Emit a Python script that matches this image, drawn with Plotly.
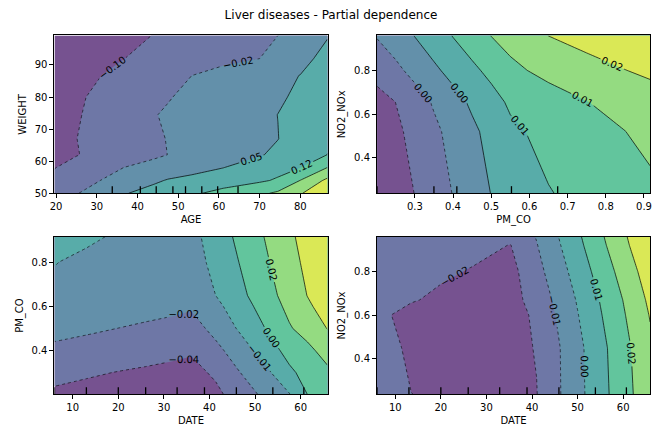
import plotly.graph_objects as go

TITLE = "Liver diseases - Partial dependence"

# ---------------- Panel 1: AGE (x) vs WEIGHT (y) ----------------
age_grid = [19.6, 25, 31, 36.7, 44, 47.5, 53.3, 61, 70, 74.5, 80, 86.7]
weight_grid = [50, 54, 58, 62, 67, 74.5, 80, 86.7, 92, 99.2]
pd_age_weight = [
    [-0.0625, -0.0288, 0.0103, 0.0448, 0.0763, 0.0898, 0.113, 0.146, 0.185, 0.2105, 0.2668, 0.3425],
    [-0.0813, -0.0543, -0.0243, 0.0028, 0.038, 0.0545, 0.0688, 0.0898, 0.1138, 0.1325, 0.2, 0.29],
    [-0.1015, -0.0768, -0.0513, -0.0243, -0.0025, 0.008, 0.0253, 0.0485, 0.083, 0.101, 0.1228, 0.2],
    [-0.1188, -0.1023, -0.0813, -0.0618, -0.0363, -0.0243, -0.0063, 0.017, 0.0448, 0.0635, 0.0913, 0.125],
    [-0.13, -0.1, -0.0813, -0.0625, -0.04, -0.0213, -0.0025, 0.0163, 0.035, 0.0485, 0.08, 0.1175],
    [-0.1375, -0.1053, -0.079, -0.0565, -0.028, -0.0175, -0.0025, 0.0163, 0.0365, 0.0502, 0.0725, 0.1025],
    [-0.145, -0.109, -0.085, -0.0663, -0.0408, -0.0288, -0.01, 0.0088, 0.0275, 0.041, 0.0613, 0.0913],
    [-0.1525, -0.1263, -0.1, -0.079, -0.055, -0.043, -0.025, -0.0025, 0.02, 0.035, 0.0508, 0.08],
    [-0.16, -0.1375, -0.1188, -0.1, -0.0813, -0.0723, -0.0588, -0.0415, -0.025, -0.0025, 0.0313, 0.0688],
    [-0.1675, -0.1488, -0.1338, -0.1188, -0.0978, -0.0888, -0.0738, -0.055, -0.0363, -0.025, 0.008, 0.0463],
]
levels_age_weight = dict(start=-0.0995, size=0.0746, n_neg=2)
deciles_age = [33.8, 40.7, 44.6, 48.7, 51.8, 55.8, 59.7, 64.7]

# ---------------- Panel 2: PM_CO (x) vs NO2_NOx (y) ----------------
pmco_grid_a = [0.201, 0.25, 0.30, 0.35, 0.40, 0.45, 0.50, 0.55, 0.65, 0.75, 0.85, 0.916]
no2_grid_a = [0.237, 0.52, 0.655, 0.80, 0.960]
pd_pmco_no2 = [
    [-0.01185, -0.0094, -0.0069, -0.00435, -0.00185, 0.00065, 0.0031, 0.00465, 0.00775, 0.00945, 0.011, 0.012],
    [-0.0105, -0.008, -0.0055, -0.003, -0.0005, 0.0021, 0.0044, 0.007, 0.0095, 0.0111, 0.01295, 0.01425],
    [-0.0095, -0.00695, -0.00425, -0.0015, 0.00125, 0.00375, 0.00625, 0.00875, 0.011, 0.0129, 0.0145, 0.0155],
    [-0.0045, -0.0031, -0.0005, 0.00215, 0.0045, 0.007, 0.00925, 0.012, 0.01425, 0.016, 0.0179, 0.019],
    [-0.00175, 0.0005, 0.00315, 0.0055, 0.0082, 0.0105, 0.0131, 0.0145, 0.01805, 0.02, 0.0215, 0.0225],
]
levels_pmco_no2 = dict(start=-0.007, size=0.005, n_neg=2)
deciles_pmco = [0.201, 0.35, 0.41, 0.553, 0.674]

# ---------------- Panel 3: DATE (x) vs PM_CO (y) ----------------
date_grid_a = [6.0, 13, 20, 26, 33, 36, 41.4, 46, 52, 57.5, 61.5, 65.9]
pmco_grid_b = [0.201, 0.3, 0.4, 0.5, 0.6, 0.65, 0.8, 0.916]
pd_date_pmco = [
    [-0.0385, -0.0406, -0.0426, -0.0439, -0.0446, -0.0446, -0.0392, -0.0318, -0.0203, -0.0102, 0.0041, 0.0114],
    [-0.0331, -0.0349, -0.0369, -0.0385, -0.0399, -0.0403, -0.0345, -0.0244, -0.0136, 0.0013, 0.0087, 0.0148],
    [-0.0257, -0.0277, -0.0298, -0.0311, -0.0338, -0.0352, -0.0264, -0.0176, -0.0041, 0.0087, 0.0141, 0.0229],
    [-0.0190, -0.0210, -0.0231, -0.0250, -0.0271, -0.0284, -0.0190, -0.0092, 0.0036, 0.0162, 0.0229, 0.0314],
    [-0.0129, -0.0149, -0.0169, -0.0183, -0.0203, -0.0217, -0.0129, -0.0034, 0.0087, 0.0209, 0.0290, 0.0364],
    [-0.0115, -0.0133, -0.0149, -0.0163, -0.0183, -0.0190, -0.0094, -0.0007, 0.0114, 0.0229, 0.0313, 0.0378],
    [-0.0092, -0.0115, -0.0129, -0.0136, -0.0136, -0.0115, -0.0082, 0.0031, 0.0151, 0.0261, 0.0342, 0.0432],
    [-0.0055, -0.0079, -0.0106, -0.0122, -0.0133, -0.0136, -0.0034, 0.0059, 0.0176, 0.0284, 0.0363, 0.0445],
]
levels_date_pmco = dict(start=-0.0365, size=0.0135, n_neg=3)

# ---------------- Panel 4: DATE (x) vs NO2_NOx (y) ----------------
date_grid_b = [6.0, 9.3, 13.5, 20, 27, 35.3, 41, 45, 50, 55, 60, 65.9]
no2_grid_b = [0.237, 0.45, 0.6, 0.67, 0.8, 0.92, 0.960]
pd_date_no2 = [
    [-0.0163, -0.01765, -0.01891, -0.02035, -0.0208, -0.02062, -0.01927, -0.01225, -0.0037, 0.00476, 0.01322, 0.0233],
    [-0.0154, -0.0172, -0.0208, -0.0217, -0.02215, -0.0217, -0.01855, -0.01207, -0.00343, 0.0053, 0.01403, 0.02429],
    [-0.0163, -0.01909, -0.02125, -0.02242, -0.0226, -0.02215, -0.01765, -0.01018, -0.00136, 0.00737, 0.0161, 0.02645],
    [-0.01585, -0.0172, -0.01846, -0.02035, -0.0217, -0.02215, -0.01549, -0.00892, -0.00028, 0.00845, 0.01718, 0.0278],
    [-0.01495, -0.01585, -0.01675, -0.01792, -0.01945, -0.0217, -0.01279, -0.00613, 0.00269, 0.01151, 0.02033, 0.03077],
    [-0.01405, -0.0145, -0.01522, -0.0163, -0.0172, -0.01918, -0.01045, -0.00334, 0.00557, 0.01466, 0.02357, 0.0341],
    [-0.0136, -0.01405, -0.0145, -0.0154, -0.01585, -0.0172, -0.00955, -0.00244, 0.00647, 0.01556, 0.02447, 0.03491],
]
levels_date_no2 = dict(start=-0.019, size=0.009, n_neg=3)
deciles_date = [6.0, 13.0, 20.0, 26.0, 32.9, 38.9, 45.9, 53.9, 60.7]

# band colours: viridis at band centres, alpha 0.75 over white
BAND_COLORS = ["#765290", "#6e77a6", "#6390aa", "#58aca9", "#62c59d", "#94db81", "#dae856"]


def discrete_scale(colors):
    n = len(colors) - 1
    scale = []
    for i, c in enumerate(colors):
        lo = max(0.0, (i - 0.5) / n)
        hi = min(1.0, (i + 0.5) / n)
        scale.append([lo, c])
        scale.append([hi, c])
    return scale


SCALE = discrete_scale(BAND_COLORS)
FONT = "DejaVu Sans"

panels = [
    dict(x=age_grid, y=weight_grid, z=pd_age_weight, lv=levels_age_weight, dec=deciles_age,
         xa="x", ya="y", xt="AGE", yt="WEIGHT"),
    dict(x=pmco_grid_a, y=no2_grid_a, z=pd_pmco_no2, lv=levels_pmco_no2, dec=deciles_pmco,
         xa="x2", ya="y2", xt="PM_CO", yt="NO2_NOx"),
    dict(x=date_grid_a, y=pmco_grid_b, z=pd_date_pmco, lv=levels_date_pmco, dec=deciles_date,
         xa="x3", ya="y3", xt="DATE", yt="PM_CO"),
    dict(x=date_grid_b, y=no2_grid_b, z=pd_date_no2, lv=levels_date_no2, dec=deciles_date,
         xa="x4", ya="y4", xt="DATE", yt="NO2_NOx"),
]

fig = go.Figure()
shapes = []
for p in panels:
    st, sz, nn = p["lv"]["start"], p["lv"]["size"], p["lv"]["n_neg"]
    end = st + 5 * sz
    fig.add_trace(go.Contour(
        x=p["x"], y=p["y"], z=p["z"], xaxis=p["xa"], yaxis=p["ya"],
        autocontour=False,
        contours=dict(start=st, end=end, size=sz, coloring="fill", showlines=False),
        colorscale=SCALE, showscale=False, line=dict(width=0, smoothing=0),
        hoverinfo="skip"))
    lbl = dict(size=10, color="black", family=FONT)
    fig.add_trace(go.Contour(
        x=p["x"], y=p["y"], z=p["z"], xaxis=p["xa"], yaxis=p["ya"],
        autocontour=False,
        contours=dict(start=st, end=st + (nn - 1) * sz, size=sz, coloring="none",
                      showlabels=True, labelfont=lbl, labelformat=".2f"),
        line=dict(color="black", width=0.6, dash="dot", smoothing=0),
        showscale=False, hoverinfo="skip"))
    fig.add_trace(go.Contour(
        x=p["x"], y=p["y"], z=p["z"], xaxis=p["xa"], yaxis=p["ya"],
        autocontour=False,
        contours=dict(start=st + nn * sz, end=end, size=sz, coloring="none",
                      showlabels=True, labelfont=lbl, labelformat=".2f"),
        line=dict(color="black", width=0.7, smoothing=0),
        showscale=False, hoverinfo="skip"))
    for d in p["dec"]:
        shapes.append(dict(type="line", xref=p["xa"], yref=p["ya"] + " domain",
                           x0=d, x1=d, y0=0, y1=0.045,
                           line=dict(color="black", width=1.3)))

W, H = 662, 430
colx = [(50 / W, 326 / W), (376 / W, 652 / W)]
rowy = [(1 - 196 / H, 1 - 36 / H), (1 - 400 / H, 1 - 240 / H)]

axis_common = dict(showline=True, mirror=True, linecolor="black", linewidth=1,
                   ticks="outside", ticklen=4, tickwidth=1, tickcolor="black",
                   showgrid=False, zeroline=False,
                   tickfont=dict(size=10, color="black", family=FONT))

layout = dict(
    width=W, height=H,
    margin=dict(l=0, r=0, t=0, b=0),
    paper_bgcolor="white", plot_bgcolor="white",
    font=dict(family=FONT, size=10, color="black"),
    title=dict(text=TITLE, x=0.5, xanchor="center", y=1 - 15 / H, yanchor="middle",
               font=dict(size=12, color="black", family=FONT)),
    shapes=shapes,
    showlegend=False,
)

xticks = [
    dict(tickvals=[20, 30, 40, 50, 60, 70, 80], range=[19.6, 86.7]),
    dict(tickvals=[0.3, 0.4, 0.5, 0.6, 0.7, 0.8, 0.9], range=[0.201, 0.916]),
    dict(tickvals=[10, 20, 30, 40, 50, 60], range=[6.0, 65.9]),
    dict(tickvals=[10, 20, 30, 40, 50, 60], range=[6.0, 65.9]),
]
yticks = [
    dict(tickvals=[50, 60, 70, 80, 90], range=[50, 99.2]),
    dict(tickvals=[0.4, 0.6, 0.8], range=[0.237, 0.960]),
    dict(tickvals=[0.4, 0.6, 0.8], range=[0.201, 0.916]),
    dict(tickvals=[0.4, 0.6, 0.8], range=[0.237, 0.960]),
]
for i, p in enumerate(panels):
    r, c = divmod(i, 2)
    xn = "xaxis" if i == 0 else "xaxis%d" % (i + 1)
    yn = "yaxis" if i == 0 else "yaxis%d" % (i + 1)
    layout[xn] = dict(axis_common, domain=list(colx[c]), anchor=p["ya"],
                      title=dict(text=p["xt"], standoff=4, font=dict(size=10, color="black")),
                      **xticks[i])
    layout[yn] = dict(axis_common, domain=list(rowy[r]), anchor=p["xa"],
                      title=dict(text=p["yt"], standoff=6, font=dict(size=10, color="black")),
                      **yticks[i])

fig.update_layout(**layout)
fig.write_html("out.html")
